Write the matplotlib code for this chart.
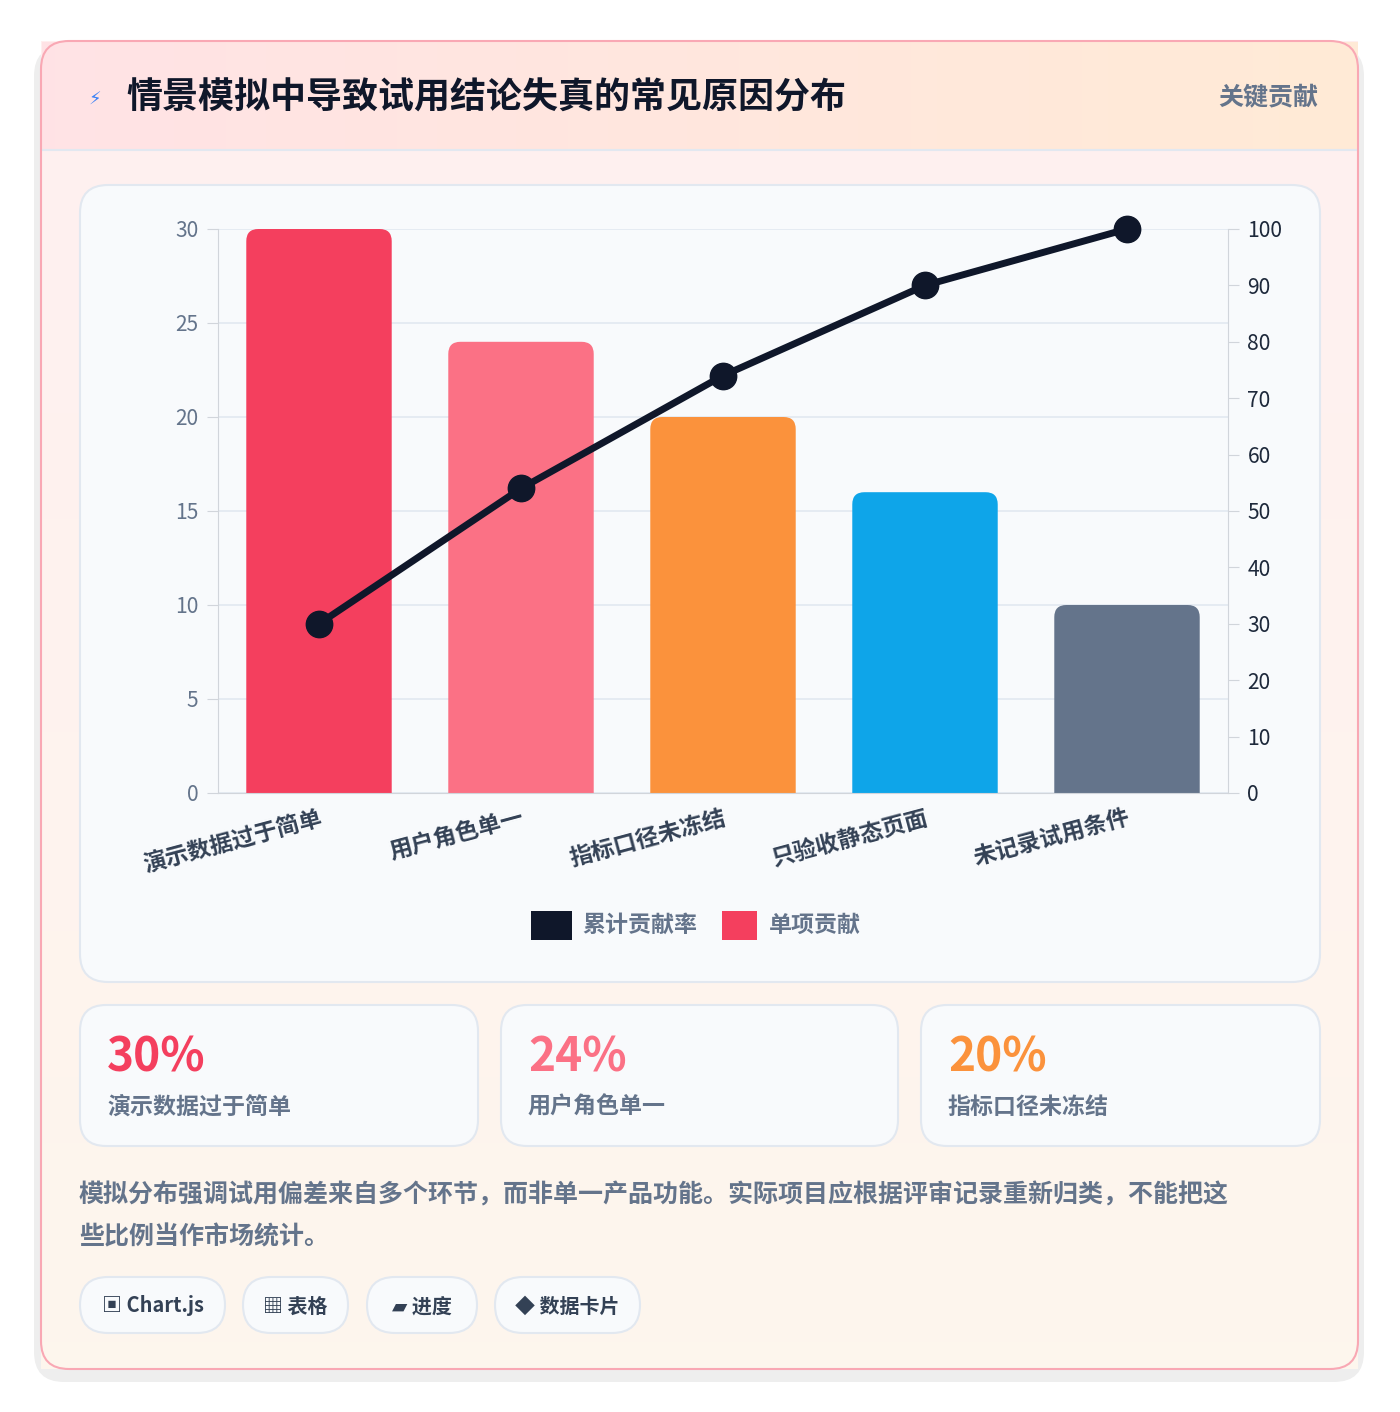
import matplotlib
matplotlib.use("Agg")
import matplotlib.pyplot as plt
from matplotlib.patches import FancyBboxPatch, Rectangle
import numpy as np

plt.rcParams['font.family'] = ['Noto Sans CJK SC', 'DejaVu Sans']

categories = ["演示数据过于简单", "用户角色单一", "指标口径未冻结", "只验收静态页面", "未记录试用条件"]
values = [30, 24, 20, 16, 10]
cumulative = [30, 54, 74, 90, 100]
bar_colors = ["#f43f5e", "#fb7185", "#fb923c", "#0ea5e9", "#64748b"]
left_ticks = [0, 5, 10, 15, 20, 25, 30]
right_ticks = [0, 10, 20, 30, 40, 50, 60, 70, 80, 90, 100]
stat_values = ["30%", "24%", "20%"]
stat_labels = ["演示数据过于简单", "用户角色单一", "指标口径未冻结"]
chips = ["▣ Chart.js", "▦ 表格", "▰ 进度", "◆ 数据卡片"]

W, H = 1400, 1412
fig = plt.figure(figsize=(W/100, H/100), dpi=100)
fig.patch.set_facecolor("white")

def fx(x): return x / W
def fy(y): return 1 - y / H
def pt(px): return px * 0.72

def rbox(x0, y0, x1, y1, r, fc, ec="none", lw=1, z=0):
    p = FancyBboxPatch((fx(x0), fy(y1)), fx(x1 - x0), (y1 - y0) / H,
                       boxstyle=f"round,pad=0,rounding_size={r/W}",
                       mutation_aspect=W / H, transform=fig.transFigure,
                       fc=fc, ec=ec, lw=lw, zorder=z)
    fig.add_artist(p)

# shadow + card
rbox(34, 46, 1364, 1382, 30, "#eeeeee", z=0)
# gradient card body
grad_ax = fig.add_axes([fx(41), fy(1369), fx(1317), (1369 - 41) / H], zorder=1)
g = np.linspace(0, 1, 100)[:, None]
c1 = np.array([1.0, 0.94, 0.94]); c2 = np.array([0.995, 0.965, 0.93])
img = c1 * (1 - g[..., None]) + c2 * g[..., None]
img = np.repeat(img, 2, axis=1)
grad_ax.imshow(img, aspect='auto', extent=[0, 1, 0, 1], origin='upper')
grad_ax.axis('off')
# header gradient
hd = fig.add_axes([fx(42), fy(150), fx(1316), (150 - 42) / H], zorder=1.1)
gx = np.linspace(0, 1, 100)[None, :]
a = np.array([1.0, 0.89, 0.90]); b = np.array([1.0, 0.92, 0.84])
himg = a * (1 - gx[..., None]) + b * gx[..., None]
hd.imshow(himg, aspect='auto', extent=[0, 1, 0, 1])
hd.axis('off')
fig.add_artist(plt.Line2D([fx(42), fx(1358)], [fy(150), fy(150)], transform=fig.transFigure, color="#e2e8f0", lw=1.5, zorder=1.2))
# card border
rbox(41, 41, 1358, 1369, 28, "none", ec="#f9a8b4", lw=1.5, z=1.3)

fig.text(fx(95), fy(100), "⚡", fontsize=pt(18), color="#3b82f6", ha='center', va='center', zorder=3, family=['DejaVu Sans'])
fig.text(fx(126), fy(98), "情景模拟中导致试用结论失真的常见原因分布", fontsize=pt(36), fontweight='bold', color="#0f172a", ha='left', va='center', zorder=3)
fig.text(fx(1318), fy(98), "关键贡献", fontsize=pt(25), fontweight='bold', color="#64748b", ha='right', va='center', zorder=3)

# chart panel
rbox(80, 185, 1320, 982, 28, "#f8fafc", ec="#e2e8f0", lw=1.5, z=2)

ax = fig.add_axes([fx(218), fy(793), fx(1228 - 218), (793 - 229) / H], zorder=3)
ax.set_facecolor("none")
x = np.arange(len(categories))
bw = 0.72
for i, (v, c) in enumerate(zip(values, bar_colors)):
    p = FancyBboxPatch((x[i] - bw / 2, -2), bw, v + 2,
                       boxstyle="round,pad=0,rounding_size=0.06",
                       mutation_aspect=(30 / 564) / (1 / 202),
                       fc=c, ec='none', zorder=2, clip_on=True)
    ax.add_patch(p)
ax.set_xlim(-0.5, len(categories) - 0.5)
ax.set_ylim(0, 30)
ax.set_yticks(left_ticks)
ax.yaxis.grid(True, color="#e2e8f0", lw=1.2, zorder=0)
ax.set_axisbelow(True)
for s in ['top', 'right']:
    ax.spines[s].set_visible(False)
ax.spines['left'].set_color("#d1d5db")
ax.spines['bottom'].set_color("#d1d5db")
ax.tick_params(axis='y', colors="#d1d5db", labelcolor="#64748b", labelsize=pt(21), length=8, pad=6)
ax.tick_params(axis='x', length=0, pad=10)
ax.set_xticks(x)
ax.set_xticklabels(categories, rotation=15, ha='right', rotation_mode='anchor',
                   fontsize=pt(23), fontweight='bold', color="#334155")

ax2 = ax.twinx()
ax2.set_ylim(0, 100)
ax2.set_yticks(right_ticks)
for s in ['top', 'left']:
    ax2.spines[s].set_visible(False)
ax2.spines['right'].set_color("#d1d5db")
ax2.spines['bottom'].set_visible(False)
ax2.tick_params(axis='y', colors="#d1d5db", labelcolor="#1e293b", labelsize=pt(21), length=8, pad=6)
ax2.plot(x, cumulative, color="#0f172a", lw=5, marker='o', ms=19, zorder=5, clip_on=False, solid_capstyle='round')

# legend
fig.add_artist(Rectangle((fx(531), fy(940)), fx(41), 29 / H, transform=fig.transFigure, fc="#0f172a", zorder=4))
fig.text(fx(582), fy(925), "累计贡献率", fontsize=pt(23), fontweight='bold', color="#64748b", va='center', zorder=4)
fig.add_artist(Rectangle((fx(722), fy(940)), fx(35), 29 / H, transform=fig.transFigure, fc="#f43f5e", zorder=4))
fig.text(fx(769), fy(925), "单项贡献", fontsize=pt(23), fontweight='bold', color="#64748b", va='center', zorder=4)

# stat cards
cards = [(80, 478), (501, 898), (921, 1320)]
for (x0, x1), v, l, c in zip(cards, stat_values, stat_labels, bar_colors[:3]):
    rbox(x0, 1005, x1, 1146, 26, "#f8fafc", ec="#e2e8f0", lw=1.5, z=2)
    fig.text(fx(x0 + 27), fy(1058), v, fontsize=pt(46), fontweight='bold', color=c, va='center', zorder=3)
    fig.text(fx(x0 + 27), fy(1107), l, fontsize=pt(23), fontweight='bold', color="#64748b", va='center', zorder=3)

fig.text(fx(79), fy(1195), "模拟分布强调试用偏差来自多个环节，而非单一产品功能。实际项目应根据评审记录重新归类，不能把这",
         fontsize=pt(25), fontweight='bold', color="#64748b", va='center', zorder=3)
fig.text(fx(79), fy(1237), "些比例当作市场统计。", fontsize=pt(25), fontweight='bold', color="#64748b", va='center', zorder=3)

chip_pos = [(80, 225), (243, 348), (367, 477), (495, 640)]
for (x0, x1), t in zip(chip_pos, chips):
    rbox(x0, 1277, x1, 1333, 28, "#f8fafc", ec="#e2e8f0", lw=1.5, z=2)
    fig.text(fx((x0 + x1) / 2), fy(1306), t, fontsize=pt(20), fontweight='bold', color="#334155",
             ha='center', va='center', zorder=3, family=['Noto Sans CJK SC', 'DejaVu Sans'])

fig.savefig("out.png", dpi=100, facecolor="white")
